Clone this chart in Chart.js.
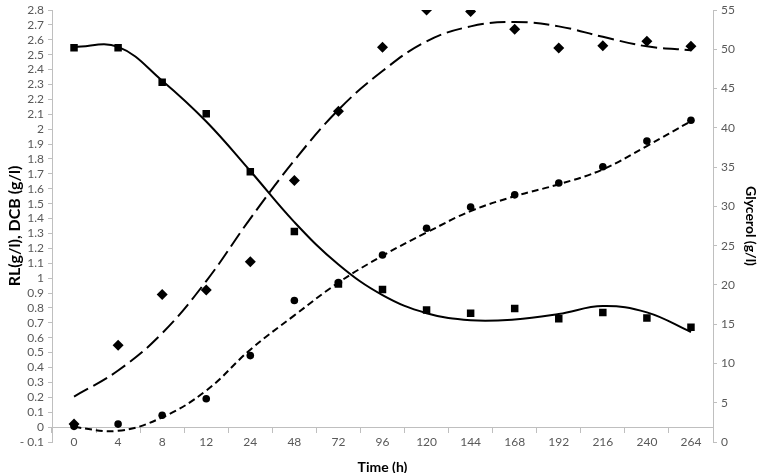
<!DOCTYPE html>
<html>
<head>
<meta charset="utf-8">
<script src="https://cdn.jsdelivr.net/npm/chart.js@4"></script>
<style>
  html, body { margin: 0; padding: 0; background: #fff; }
  #wrap { width: 761px; height: 473px; }
</style>
</head>
<body>
<div id="wrap"><canvas id="timeChart" width="761" height="473"></canvas></div>
<script>
const hours = ['0', '4', '8', '12', '24', '48', '72', '96', '120', '144', '168', '192', '216', '240', '264'];

// measured points
const glycerol = [50.2, 50.2, 45.8, 41.8, 34.4, 26.8, 20.1, 19.4, 16.8, 16.4, 17.0, 15.7, 16.5, 15.8, 14.6];
const rl = [0.02, 0.55, 0.89, 0.92, 1.11, 1.655, 2.12, 2.55, 2.80, 2.79, 2.67, 2.545, 2.56, 2.59, 2.556];
const dcb = [0.005, 0.02, 0.08, 0.19, 0.48, 0.85, 0.97, 1.155, 1.335, 1.478, 1.559, 1.639, 1.748, 1.92, 2.06];

// trend lines
const glycerolTrend = [50.3, 50.3, 46.0, 40.8, 34.5, 28.0, 22.6, 18.7, 16.4, 15.5, 15.6, 16.3, 17.3, 16.5, 14.0];
const rlTrend = [0.205, 0.38, 0.63, 0.98, 1.40, 1.79, 2.13, 2.39, 2.59, 2.69, 2.72, 2.69, 2.62, 2.556, 2.53];
const dcbTrend = [0.0, -0.025, 0.065, 0.245, 0.52, 0.75, 0.97, 1.15, 1.306, 1.45, 1.55, 1.63, 1.73, 1.887, 2.054];

const axisGray = '#bfbfbf';
const labelGray = '#595959';
const tickFont = { family: 'Lato', size: 12 };

const ctx = document.getElementById('timeChart').getContext('2d');
new Chart(ctx, {
  type: 'line',
  data: {
    labels: hours,
    datasets: [
      {
        label: 'Glycerol',
        data: glycerol,
        yAxisID: 'y2',
        showLine: false,
        pointStyle: 'rect',
        pointRadius: 5.3,
        backgroundColor: '#000',
        borderColor: '#000',
        borderWidth: 0
      },
      {
        label: 'RL',
        data: rl,
        yAxisID: 'y',
        showLine: false,
        pointStyle: 'rectRot',
        pointRadius: 5.5,
        backgroundColor: '#000',
        borderColor: '#000',
        borderWidth: 0
      },
      {
        label: 'DCB',
        data: dcb,
        yAxisID: 'y',
        showLine: false,
        pointStyle: 'circle',
        pointRadius: 3.8,
        backgroundColor: '#000',
        borderColor: '#000',
        borderWidth: 0
      },
      {
        label: 'Glycerol trend',
        data: glycerolTrend,
        yAxisID: 'y2',
        pointRadius: 0,
        borderColor: '#000',
        borderWidth: 2,
        tension: 0.4,
        fill: false
      },
      {
        label: 'RL trend',
        data: rlTrend,
        yAxisID: 'y',
        pointRadius: 0,
        borderColor: '#000',
        borderWidth: 2,
        borderDash: [16, 6],
        tension: 0.4,
        fill: false
      },
      {
        label: 'DCB trend',
        data: dcbTrend,
        yAxisID: 'y',
        pointRadius: 0,
        borderColor: '#000',
        borderWidth: 2,
        borderDash: [7, 4],
        tension: 0.4,
        fill: false
      }
    ]
  },
  options: {
    responsive: false,
    animation: false,
    layout: {
      padding: { top: 0, bottom: 31, left: 0, right: 0 }
    },
    plugins: {
      legend: { display: false },
      tooltip: { enabled: false }
    },
    scales: {
      x: {
        type: 'category',
        position: { y: 0 },
        offset: true,
        grid: {
          offset: true,
          drawOnChartArea: false,
          drawTicks: true,
          tickLength: 5,
          color: axisGray
        },
        border: { color: axisGray, width: 1 },
        ticks: { color: labelGray, font: tickFont, padding: 3, maxRotation: 0, autoSkip: false },
        title: {
          display: true,
          text: 'Time (h)',
          color: '#000',
          font: { family: 'Lato', size: 14, weight: 'bold' },
          padding: { top: 7, bottom: 4 }
        }
      },
      y: {
        position: 'left',
        min: -0.1,
        max: 2.8,
        afterFit: scale => { scale.width = 52; },
        grid: {
          drawOnChartArea: false,
          drawTicks: true,
          tickLength: 4,
          color: axisGray
        },
        border: { color: axisGray, width: 1 },
        ticks: {
          stepSize: 0.1,
          autoSkip: false,
          color: labelGray,
          font: { family: 'Lato', size: 12, lineHeight: 1 },
          padding: 4,
          callback: value => {
            const v = Math.round(value * 10) / 10;
            return v < 0 ? '- ' + Math.abs(v) : String(v);
          }
        },
        title: {
          display: true,
          text: 'RL(g/l), DCB (g/l)',
          color: '#000',
          font: { family: 'Lato', size: 16, weight: 'bold' },
          padding: { top: 5, bottom: 2 }
        }
      },
      y2: {
        position: 'right',
        min: 0,
        max: 55,
        afterFit: scale => { scale.width = 48; },
        grid: {
          drawOnChartArea: false,
          drawTicks: true,
          tickLength: 4,
          color: axisGray
        },
        border: { color: axisGray, width: 1 },
        ticks: {
          stepSize: 5,
          autoSkip: false,
          color: labelGray,
          font: { family: 'Lato', size: 12, lineHeight: 1 },
          padding: 4
        },
        title: {
          display: true,
          text: 'Glycerol (g/l)',
          color: '#000',
          font: { family: 'Lato', size: 14, weight: 'bold' },
          padding: { top: 2, bottom: 2 }
        }
      }
    }
  }
});
</script>
</body>
</html>
